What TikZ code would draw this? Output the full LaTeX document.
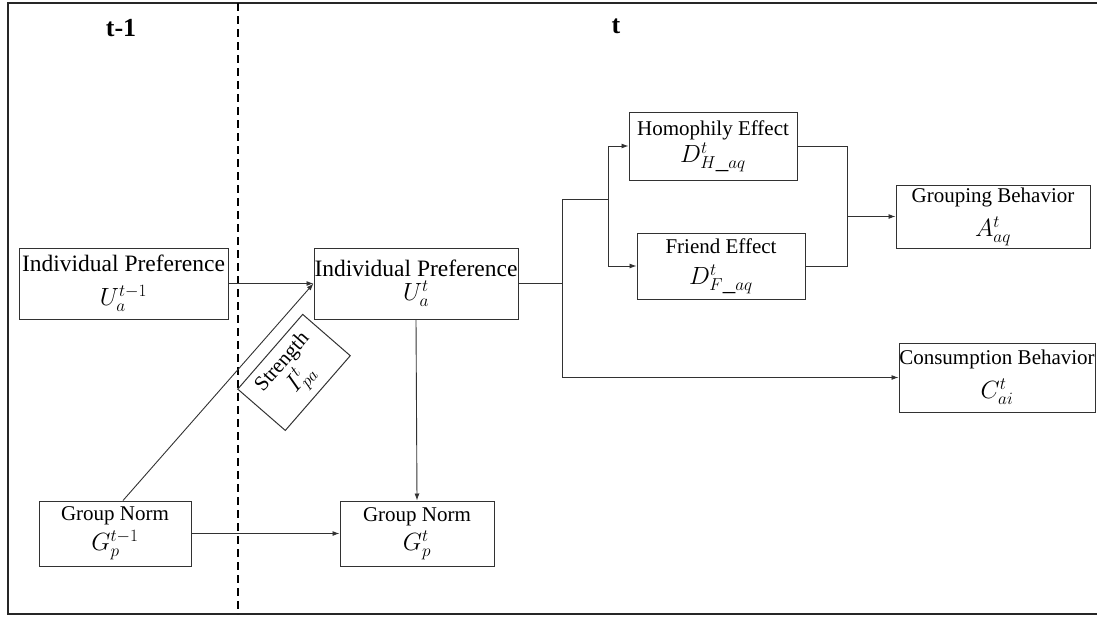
\documentclass[tikz,border=0pt]{standalone}
\usepackage{fontspec}
\setmainfont{Liberation Serif}
\usepackage{tikz}
\usetikzlibrary{
  arrows.meta,
  positioning,
  calc
}
\definecolor{linegray}{RGB}{50,50,50}
\newcommand{\boxfont}{\fontsize{21}{25}\selectfont}
\newcommand{\prefont}{\fontsize{23.5}{28}\selectfont}
\newcommand{\sym}[1]{{\fontsize{25}{28}\selectfont$#1$}}

\begin{document}
\begin{tikzpicture}[x=1pt, y=-1pt,
  box/.style={draw=linegray, line width=1pt, inner sep=0pt, align=center, font=\boxfont},
  conn/.style={-{Latex[length=7pt, width=5pt]}, line width=0.9pt, linegray},
  wire/.style={line width=0.9pt, linegray}]
  \useasboundingbox (0,0) rectangle (1097,616);
  \draw[line width=1.6pt, black!85] (8,3) rectangle (1100,614);
  \draw[line width=1.6pt, dash pattern=on 8pt off 5pt] (238,3) -- (238,614);

  \node[font=\fontsize{26}{30}\selectfont\bfseries, inner sep=0pt] (tprev) at (121,28) {t-1};
  \node[font=\fontsize{26}{30}\selectfont\bfseries, inner sep=0pt] (tnow) at (616,26) {t};

  \node[box, font=\prefont, minimum width=209pt, minimum height=71pt] (prefOld) at (123.5,283.5) {Individual Preference\\[6pt] \sym{U_a^{t-1}}};
  \node[box, font=\prefont, minimum width=204pt, minimum height=71pt] (prefNow) at (416,283.5) {Individual Preference\\[-4pt] \sym{U_a^{t}}};
  \node[box, minimum width=152pt, minimum height=65pt] (normOld) at (115,533.5) {Group Norm\\[5pt] \sym{G_p^{t-1}}};
  \node[box, minimum width=154pt, minimum height=65pt] (normNow) at (417,533.5) {Group Norm\\[4pt] \sym{G_p^{t}}};

  \node[box, minimum width=99pt, minimum height=63pt, rotate=49] (strength) at (294,372.4) {Strength\\[0pt] \sym{I_{pa}^{t}}};

  \node[box, minimum width=168pt, minimum height=68pt] (homophily) at (713,146) {Homophily Effect\\[2pt] \sym{D_{H\_aq}^{t}}};
  \node[box, minimum width=168pt, minimum height=66pt] (friend) at (721,266) {Friend Effect\\[6pt] \sym{D_{F\_aq}^{t}}};
  \node[box, minimum width=194pt, minimum height=63pt] (grouping) at (993,216.5) {Grouping Behavior\\[9pt] \sym{A_{aq}^{t}}};
  \node[box, minimum width=196pt, minimum height=69pt] (consumption) at (997,377.5) {Consumption Behavior\\[9pt] \sym{C_{ai}^{t}}};

  \draw[conn] (prefOld.east) -- (prefNow.west);
  \draw[conn] ([xshift=8pt]normOld.north) -- (prefNow.west);
  \draw[conn] (prefNow.south) -- (normNow.north);
  \draw[conn] (normOld.east) -- (normNow.west);

  \coordinate (forkA) at (562,283.5);
  \coordinate (forkB) at (608,199);
  \coordinate (joinC) at (847,216.5);
  \draw[wire] (prefNow.east) -- (forkA);
  \draw[conn] (forkA) |- (consumption.west);
  \draw[wire] (forkA) |- (forkB);
  \draw[conn] (forkB) |- (homophily.west);
  \draw[conn] (forkB) |- (friend.west);
  \draw[wire] (homophily.east) -| (joinC);
  \draw[wire] (friend.east) -| (joinC);
  \draw[conn] (joinC) -- (grouping.west);
\end{tikzpicture}
\end{document}
